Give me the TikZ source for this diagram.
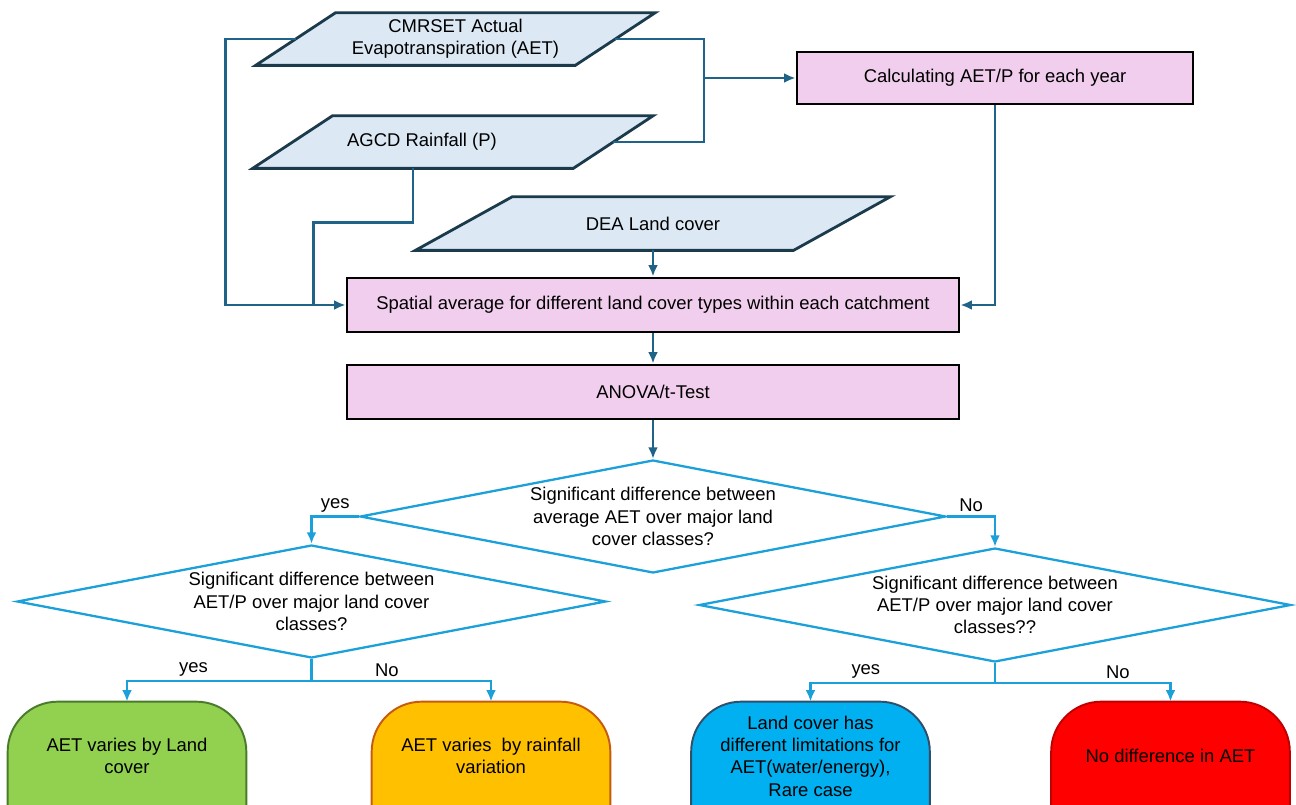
\documentclass[tikz,border=0pt]{standalone}
\usepackage{fontspec}
\setmainfont{Liberation Sans}
\usetikzlibrary{shapes.geometric,arrows.meta,backgrounds}

\definecolor{datafill}{HTML}{DCE9F5}
\definecolor{dataline}{HTML}{1B3A4B}
\definecolor{procfill}{HTML}{F2CEEE}
\definecolor{linkcol}{HTML}{1F6388}
\definecolor{askcol}{HTML}{1BA0DA}
\definecolor{landgreen}{HTML}{92D050}
\definecolor{landgreenline}{HTML}{4A7A2C}
\definecolor{rainorange}{HTML}{FFC000}
\definecolor{rainorangeline}{HTML}{C55A11}
\definecolor{rareblue}{HTML}{00B0F0}
\definecolor{rareblueline}{HTML}{2F4F6B}
\definecolor{nodiffred}{HTML}{FF0000}
\definecolor{nodiffredline}{HTML}{C00000}

\tikzset{
  txt/.style={font=\fontsize{10.5pt}{12.7pt}\selectfont, inner sep=0pt},
  databox/.style={txt, align=center},
  datashape/.style={draw=dataline, fill=datafill, line width=1.6pt},
  procbox/.style={txt, align=center, draw=black, fill=procfill, line width=1.6pt},
  askbox/.style={txt, align=center, diamond, aspect=5, draw=askcol, fill=white, line width=1.3pt},
  endbox/.style={txt, align=center, minimum width=4.76cm, minimum height=2.16cm},
  endshape/.style={line width=1.1pt, rounded corners=1cm},
  link/.style={draw=linkcol, line width=1.5pt},
  linkarrow/.style={link, -{Latex[length=6.5pt,width=5.5pt]}},
  asklink/.style={draw=askcol, line width=1.3pt, -{Latex[length=6.5pt,width=5.5pt]}},
  answer/.style={txt, above, inner sep=2pt},
}

\begin{document}
\begin{tikzpicture}[x=0.02cm, y=-0.02cm]
    \useasboundingbox (0,0) rectangle (1296,805);

    % input data
    \node[databox, minimum width=6.38cm, minimum height=1.04cm] (cmr) at (455.5,39) {CMRSET Actual\\Evapotranspiration (AET)};
    \node[txt, minimum width=6.4cm, minimum height=1.04cm] (agcd) at (453,142) {AGCD Rainfall (P)\hspace*{1.24cm}};
    \node[databox, minimum width=7.55cm, minimum height=1.06cm] (dea) at (653,223.5) {DEA Land cover};

    % processing steps
    \node[procbox, minimum width=7.92cm, minimum height=1.04cm] (calc) at (995,78) {Calculating AET/P for each year};
    \node[procbox, minimum width=12.24cm, minimum height=1.08cm] (spatial) at (653,305) {Spatial average for different land cover types within each catchment};
    \node[procbox, minimum width=12.24cm, minimum height=1.08cm] (anova) at (653,392) {ANOVA/t-Test};

    % decisions
    \node[askbox, minimum width=11.72cm, minimum height=2.26cm] (avgq) at (653,516.5) {Significant difference between\\average AET over major land\\cover classes?};
    \node[askbox, minimum width=11.78cm, minimum height=2.26cm] (ratioq) at (311.5,601.5) {Significant difference between\\AET/P over major land cover\\classes?};
    \node[askbox, minimum width=11.84cm, minimum height=2.28cm] (ratioqq) at (995,605) {Significant difference between\\AET/P over major land cover\\classes??};

    % outcomes
    \node[endbox] (byland) at (127,756) {AET varies by Land\\cover};
    \node[endbox] (byrain) at (491,756) {AET varies \ by rainfall\\variation};
    \node[endbox] (rare) at (810.5,756) {Land cover has\\different limitations for\\AET(water/energy),\\Rare case};
    \node[endbox] (nodiff) at (1170.5,756) {No difference in AET};

    \begin{scope}[on background layer]
        \clip (0,0) rectangle (1296,805);
        \draw[datashape] ([xshift=0.8cm]cmr.north west) -- ([xshift=0.8cm]cmr.north east) -- ([xshift=-0.8cm]cmr.south east) -- ([xshift=-0.8cm]cmr.south west) -- cycle;
        \draw[datashape] ([xshift=0.8cm]agcd.north west) -- ([xshift=0.8cm]agcd.north east) -- ([xshift=-0.8cm]agcd.south east) -- ([xshift=-0.8cm]agcd.south west) -- cycle;
        \draw[datashape] ([xshift=0.97cm]dea.north west) -- ([xshift=0.97cm]dea.north east) -- ([xshift=-0.97cm]dea.south east) -- ([xshift=-0.97cm]dea.south west) -- cycle;

        \draw[endshape, draw=landgreenline, fill=landgreen] ([yshift=-1cm]byland.south west) |- (byland.north) -| ([yshift=-1cm]byland.south east);
        \draw[endshape, draw=rainorangeline, fill=rainorange] ([yshift=-1cm]byrain.south west) |- (byrain.north) -| ([yshift=-1cm]byrain.south east);
        \draw[endshape, draw=rareblueline, fill=rareblue] ([yshift=-1cm]rare.south west) |- (rare.north) -| ([yshift=-1cm]rare.south east);
        \draw[endshape, draw=nodiffredline, fill=nodiffred] ([yshift=-1cm]nodiff.south west) |- (nodiff.north) -| ([yshift=-1cm]nodiff.south east);
    \end{scope}

    % upper connectors
    \coordinate (join) at (704,78);
    \draw[link] (cmr.east) -| (join);
    \draw[link] (agcd.east) -| (join);
    \draw[linkarrow] (join) -- (calc.west);
    \draw[linkarrow] (cmr.west) -- ++(-70,0) |- (spatial.west);
    \draw[link] ([xshift=-0.8cm]agcd.south) -- ++(0,54) -| ([xshift=-0.64cm]spatial.west);
    \draw[linkarrow] (dea.south) -- (spatial.north);
    \draw[linkarrow] (calc.south) |- (spatial.east);
    \draw[linkarrow] (spatial.south) -- (anova.north);
    \draw[linkarrow] (anova.south) -- (avgq.north);

    % decision branches
    \draw[asklink] (avgq.west) -| node[answer, pos=0.25] (yesavg) {yes} (ratioq.north);
    \draw[asklink] (avgq.east) -| node[answer, pos=0.25] (noavg) {No} (ratioqq.north);
    \draw[asklink] (ratioq.south) -- ++(0,22) -| node[answer, pos=0.32] (yesratio) {yes} (byland.north);
    \draw[asklink] (ratioq.south) -- ++(0,22) -| node[answer, pos=0.21] (noratio) {No} (byrain.north);
    \draw[asklink] (ratioqq.south) -- ++(0,20) -| node[answer, pos=0.35] (yesratioo) {yes} (rare.north);
    \draw[asklink] (ratioqq.south) -- ++(0,20) -| node[answer, pos=0.35] (noratioo) {No} (nodiff.north);

\end{tikzpicture}
\end{document}
